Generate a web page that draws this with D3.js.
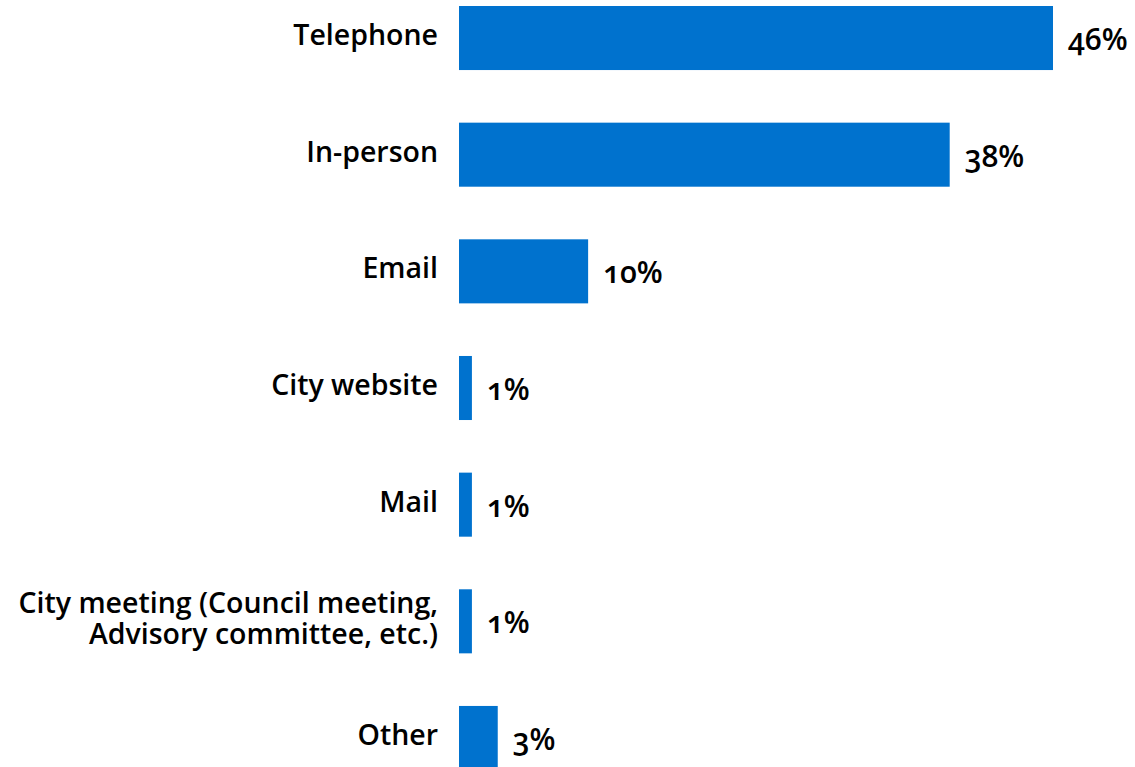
<!DOCTYPE html>
<html>
<head>
<meta charset="utf-8">
<script src="https://cdn.jsdelivr.net/npm/d3@7"></script>
<style>
  body { margin: 0; background: #fff; }
  text { font-family: "Open Sans", sans-serif; font-weight: 600; fill: #000; font-variant-numeric: oldstyle-nums; }
</style>
</head>
<body>
<div id="chart"></div>
<script>
// data
var categories = ["Telephone", "In-person", "Email", "City website", "Mail",
    "City meeting (Council meeting,|Advisory committee, etc.)", "Other"];
var values = [46, 38, 10, 1, 1, 1, 3];

var width = 1135, height = 767;

var svg = d3.select("#chart").append("svg")
    .attr("width", width)
    .attr("height", height);

// scales
var x = d3.scaleLinear().domain([0, 46]).range([459, 1053]);
var y = d3.scaleBand().domain(categories).range([6, 770])
    .paddingInner(0.451).paddingOuter(0);

var rows = svg.selectAll("g.row")
    .data(categories)
    .enter().append("g")
    .attr("class", "row");

rows.append("rect")
    .attr("x", x(0))
    .attr("y", function (d) { return y(d); })
    .attr("width", function (d, i) { return x(values[i]) - x(0); })
    .attr("height", y.bandwidth())
    .attr("fill", "#0072CE");

// category labels
rows.append("text")
    .attr("text-anchor", "end")
    .attr("font-size", 28.5)
    .attr("y", function (d) { return y(d) + y.bandwidth() / 2 + 7; })
    .each(function (d) {
        var lines = d.split("|");
        var t = d3.select(this);
        var off = -(lines.length - 1) * 31 / 2;
        lines.forEach(function (l, k) {
            t.append("tspan")
                .attr("x", 438)
                .attr("dy", k === 0 ? off : 31)
                .text(l);
        });
    });

// value labels
rows.append("text")
    .attr("font-size", 30)
    .attr("x", function (d, i) { return x(values[i]) + 15; })
    .attr("y", function (d) { return y(d) + y.bandwidth() / 2 + 12; })
    .text(function (d, i) { return values[i] + "%"; });
</script>
</body>
</html>
